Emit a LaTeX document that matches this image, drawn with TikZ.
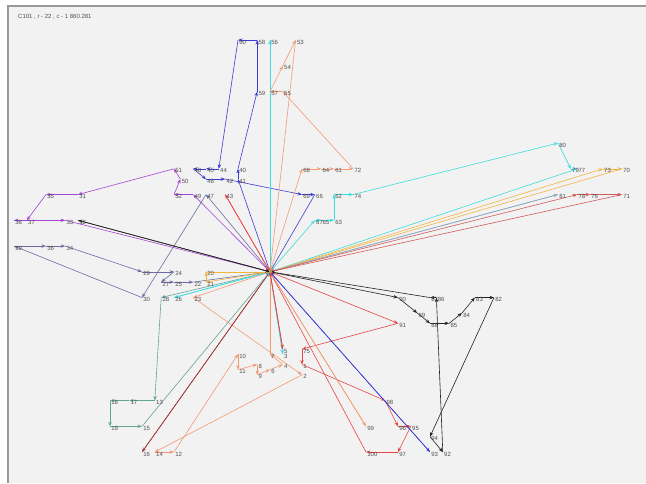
\documentclass[tikz,border=0pt]{standalone}
\usepackage{fontspec}
\setmainfont{Liberation Sans}
\usepackage{tikz}
\usetikzlibrary{arrows.meta}
\definecolor{vrpback}{HTML}{F2F2F2}
\definecolor{vrpframe}{HTML}{9A9A9A}
\definecolor{vrptext}{HTML}{505050}
\definecolor{vrpblue}{HTML}{3C3CD2}
\definecolor{vrpcyan}{HTML}{3EDCDC}
\definecolor{vrpsalmon}{HTML}{F29A74}
\definecolor{vrpred}{HTML}{E84444}
\definecolor{vrpblack}{HTML}{222222}
\definecolor{vrppurple}{HTML}{A444D4}
\definecolor{vrpslate}{HTML}{6C6CA4}
\definecolor{vrpteal}{HTML}{62A498}
\definecolor{vrporange}{HTML}{F2B440}
\definecolor{vrpmaroon}{HTML}{A03434}
\definecolor{vrpsteel}{HTML}{90A8C0}
\definecolor{vrprose}{HTML}{D25A5A}
\definecolor{vrpdepot}{HTML}{B4A040}

\tikzset{
  edge/.style={line width=0.6pt, -{Stealth[length=4.5pt,width=3.4pt]}},
  custlabel/.style={anchor=west, inner sep=0pt, text=vrptext,
    font=\fontsize{6}{6}\selectfont, xshift=1.2pt, yshift=-2pt},
}

% one route: depot, then the customers in order, back to depot
\newcommand\vrproute[2]{%
  \foreach \nxt [remember=\nxt as \prv (initially 0)] in {#2}
    \draw[edge, #1] (c\prv) -- (c\nxt);
}

\begin{document}
\begin{tikzpicture}[x=1pt, y=-1pt]
  \useasboundingbox (0,0) rectangle (646,483);
  \fill[white] (0,0) rectangle (646,483);
  \fill[vrpback] (8,6) rectangle (646,483);
  \draw[vrpframe, line width=1.2pt] (8,483) -- (8,6) -- (646,6);

  \node[anchor=west, inner sep=0pt, text=vrptext, font=\fontsize{6}{6}\selectfont]
    (title) at (18,17) {C101 , r - 22 , c - 1 860.281};

  % customers (Solomon C101)
  \begin{scope}[shift={(14,14.3)}, x=6.4pt, y=-5.15pt]
    \foreach \i/\x/\y in {0/40/50, 1/45/68, 2/45/70, 3/42/66, 4/42/68, 5/42/65,
      6/40/69, 7/40/66, 8/38/68, 9/38/70, 10/35/66, 11/35/69, 12/25/85, 13/22/75,
      14/22/85, 15/20/80, 16/20/85, 17/18/75, 18/15/75, 19/15/80, 20/30/50,
      21/30/52, 22/28/52, 23/28/55, 24/25/50, 25/25/52, 26/25/55, 27/23/52,
      28/23/55, 29/20/50, 30/20/55, 31/10/35, 32/10/40, 33/8/40, 34/8/45,
      35/5/35, 36/5/45, 37/2/40, 38/0/40, 39/0/45, 40/35/30, 41/35/32, 42/33/32,
      43/33/35, 44/32/30, 45/30/30, 46/30/32, 47/30/35, 48/28/30, 49/28/35,
      50/26/32, 51/25/30, 52/25/35, 53/44/5, 54/42/10, 55/42/15, 56/40/5,
      57/40/15, 58/38/5, 59/38/15, 60/35/5, 61/50/30, 62/50/35, 63/50/40,
      64/48/30, 65/48/40, 66/47/35, 67/47/40, 68/45/30, 69/45/35, 70/95/30,
      71/95/35, 72/53/30, 73/92/30, 74/53/35, 75/45/65, 76/90/35, 77/88/30,
      78/88/35, 79/87/30, 80/85/25, 81/85/35, 82/75/55, 83/72/55, 84/70/58,
      85/68/60, 86/66/55, 87/65/55, 88/65/60, 89/63/58, 90/60/55, 91/60/60,
      92/67/85, 93/65/85, 94/65/82, 95/62/80, 96/60/80, 97/60/85, 98/58/75,
      99/55/80, 100/55/85}
      \coordinate (c\i) at (\x,\y);
  \end{scope}

  % routes
  \vrproute{vrpblue}{41,40,59,58,60,44,45,48,46,42,69,66,0}
  \vrproute{vrpcyan}{56,0}
  \vrproute{vrpcyan}{3,0}
  \vrproute{vrpcyan}{67,65,63,62,74,80,79,77,0}
  \vrproute{vrporange}{73,70,0}
  \vrproute{vrpsteel}{81,0}
  \vrproute{vrprose}{78,76,71,0}
  \vrproute{vrpsalmon}{68,64,61,72,55,57,54,53,0}
  \vrproute{vrpblack}{90,89,88,85,84,83,82,94,92,86,87,0}
  \vrproute{vrpred}{91,75,1,98,96,95,97,100,0}
  \vrproute{vrpsalmon}{99,0}
  \vrproute{vrpblue}{93,0}
  \vrproute{vrpsalmon}{23,2,14,12,10,11,8,9,6,4,7,0}
  \vrproute{vrpred}{5,0}
  \vrproute{vrpmaroon}{16,0}
  \vrproute{vrpteal}{28,13,17,18,19,15,0}
  \vrproute{vrpcyan}{26,0}
  \vrproute{vrpslate}{47,30,39,36,34,29,24,27,25,22,0}
  \vrproute{vrporange}{21,20,0}
  \vrproute{vrppurple}{49,52,50,51,31,35,37,38,33,0}
  \vrproute{vrpred}{43,0}
  \vrproute{vrpblack}{32,0}

  \node[fill=vrpdepot, inner sep=0pt, minimum size=3pt] (depot) at (c0) {};

  % customer numbers
  \foreach \i in {1,...,100}
    \node[custlabel] (l\i) at (c\i) {\i};
\end{tikzpicture}
\end{document}
